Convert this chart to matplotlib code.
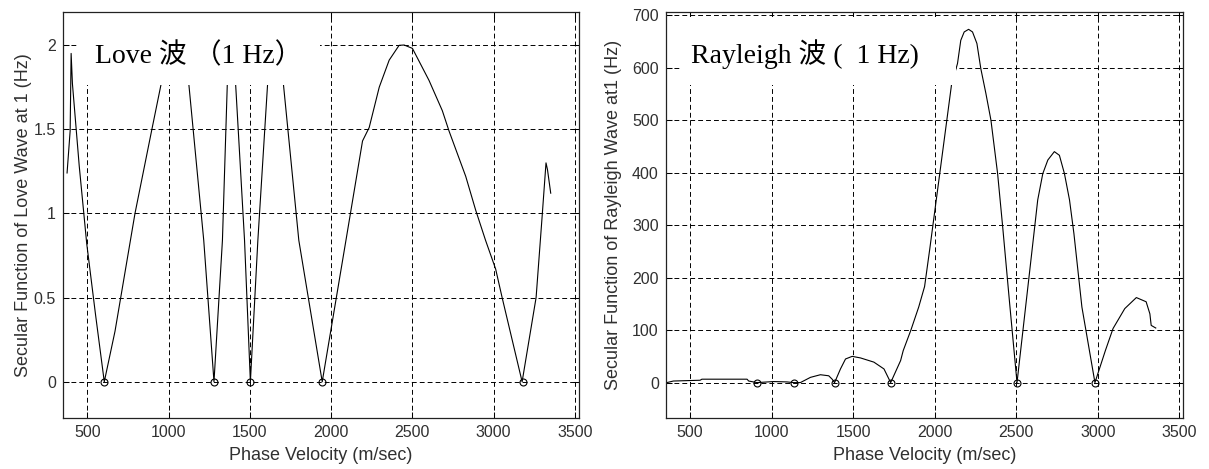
import matplotlib
matplotlib.use("Agg")
import matplotlib.pyplot as plt
from matplotlib.patches import Rectangle

plt.rcParams['lines.scale_dashes'] = False

# ---------------- data ----------------
love_v = [375, 394, 400, 408, 450, 496, 550, 604, 670, 793, 895, 952, 1071, 1124,
          1216, 1279, 1331, 1361, 1385, 1412, 1467, 1503, 1549, 1609, 1638, 1706,
          1801, 1945, 2091, 2193, 2234, 2296, 2357, 2418, 2449, 2500, 2602, 2684,
          2725, 2786, 2828, 2889, 2950, 3012, 3052, 3175, 3261, 3298, 3322, 3331, 3351]
love_f = [1.24, 1.49, 1.95, 1.77, 1.28, 0.82, 0.40, 0.0, 0.30, 1.00, 1.49, 1.76, 2.37, 1.77,
          0.84, 0.0, 0.84, 1.77, 2.29, 1.77, 0.84, 0.0, 0.84, 1.77, 2.27, 1.77,
          0.84, 0.0, 0.84, 1.43, 1.51, 1.75, 1.91, 1.998, 2.0, 1.98, 1.79, 1.61,
          1.49, 1.33, 1.22, 1.02, 0.84, 0.67, 0.50, 0.0, 0.50, 0.98, 1.30, 1.26, 1.12]
love_roots = [604, 1279, 1503, 1945, 3178]

ray_v = [357, 397, 561, 572, 849, 859, 910, 1012, 1094, 1135, 1176, 1238, 1299, 1350,
         1371, 1386, 1422, 1453, 1494, 1545, 1627, 1689, 1730, 1791, 1807, 1854, 1902,
         1938, 1970, 2103, 2140, 2160, 2181, 2208, 2232, 2259, 2283, 2314, 2345, 2386,
         2417, 2460, 2505, 2611, 2632, 2663, 2694, 2734, 2765, 2796, 2827, 2854, 2903,
         2983, 3047, 3094, 3166, 3237, 3297, 3320, 3328, 3356]
ray_f = [0, 3, 4.5, 6.5, 6.5, 3, 0, 2, 1.3, 0, 0, 10, 15, 13,
         6.5, 0, 26, 45, 50, 47, 39, 26, 0, 42, 61, 100, 144,
         183, 255, 567, 608, 652, 668, 673, 668, 646, 598, 551, 500, 398,
         297, 150, 0, 290, 348, 398, 424, 440, 433, 398, 348, 284, 144,
         0, 61, 103, 141, 162, 154, 131, 109, 104]
ray_roots = [912, 1135, 1386, 1730, 2505, 2983]

x_ticks = [500, 1000, 1500, 2000, 2500, 3000, 3500]
love_yticks = [0, 0.5, 1, 1.5, 2]
love_yticklabels = ["0", "0.5", "1", "1.5", "2"]
ray_yticks = [0, 100, 200, 300, 400, 500, 600, 700]

love_title = "Love 波 （1 Hz）"
ray_title = "Rayleigh 波 (  1 Hz)"
love_ylabel = "Secular Function of Love Wave at 1 (Hz)"
ray_ylabel = "Secular Function of Rayleigh Wave at1 (Hz)"
xlabel = "Phase Velocity (m/sec)"

# ---------------- figure ----------------
W, H = 1209, 469
fig = plt.figure(figsize=(W / 100, H / 100), dpi=100)

top_px, bot_px = 12, 418.3
ax1 = fig.add_axes([63 / W, 1 - bot_px / H, (579 - 63) / W, (bot_px - top_px) / H])
ax2 = fig.add_axes([665.7 / W, 1 - bot_px / H, (1183.3 - 665.7) / W, (bot_px - top_px) / H])

sans = 'Liberation Sans'
title_family = ['Liberation Serif', 'Noto Sans CJK JP']
txt_col = '#303030'


def style(ax):
    ax.set_xlim(350, 3525)
    ax.set_xticks(x_ticks)
    ax.grid(True, color='k', linestyle=(0, (3.5, 2.2)), linewidth=0.7)
    ax.tick_params(direction='in', top=True, right=True, length=4, width=0.75,
                   labelsize=11.5, pad=5, colors='k')
    for lab in ax.get_xticklabels() + ax.get_yticklabels():
        lab.set_fontfamily(sans)
        lab.set_color(txt_col)
    for s in ax.spines.values():
        s.set_linewidth(0.9)
        s.set_color('#222222')
    ax.set_xlabel(xlabel, fontsize=13, family=sans, color=txt_col)
    ax.xaxis.set_label_coords(0.5, -0.07)


# Love
ax1.plot(love_v, love_f, color='k', lw=0.8)
ax1.plot(love_roots, [0] * len(love_roots), 'o', mfc='none', mec='k', ms=5, mew=0.8)
ax1.set_ylim(-0.217, 2.196)
ax1.set_yticks(love_yticks)
ax1.set_yticklabels(love_yticklabels)
style(ax1)
ax1.set_ylabel(love_ylabel, fontsize=13, family=sans, color=txt_col)
ax1.yaxis.set_label_coords(-0.060, 0.5)
ax1.add_patch(Rectangle((0.029, 0.820), 0.498 - 0.029, 0.18, transform=ax1.transAxes,
                        facecolor='white', edgecolor='none', zorder=2.2))
ax1.text(0.062, 0.8745, love_title, transform=ax1.transAxes, fontsize=20,
         family=title_family, va='baseline', ha='left', zorder=2.3)

# Rayleigh
ax2.plot(ray_v, ray_f, color='k', lw=0.8)
ax2.plot(ray_roots, [0] * len(ray_roots), 'o', mfc='none', mec='k', ms=5, mew=0.8)
ax2.set_ylim(-68, 706)
ax2.set_yticks(ray_yticks)
style(ax2)
ax2.set_ylabel(ray_ylabel, fontsize=13, family=sans, color=txt_col)
ax2.yaxis.set_label_coords(-0.084, 0.5)
ax2.add_patch(Rectangle((0.029, 0.820), 0.561 - 0.029, 0.988 - 0.820, transform=ax2.transAxes,
                        facecolor='white', edgecolor='none', zorder=2.2))
ax2.text(0.0483, 0.8745, ray_title, transform=ax2.transAxes, fontsize=20,
         family=title_family, va='baseline', ha='left', zorder=2.3)

fig.savefig("out.png", dpi=100)
